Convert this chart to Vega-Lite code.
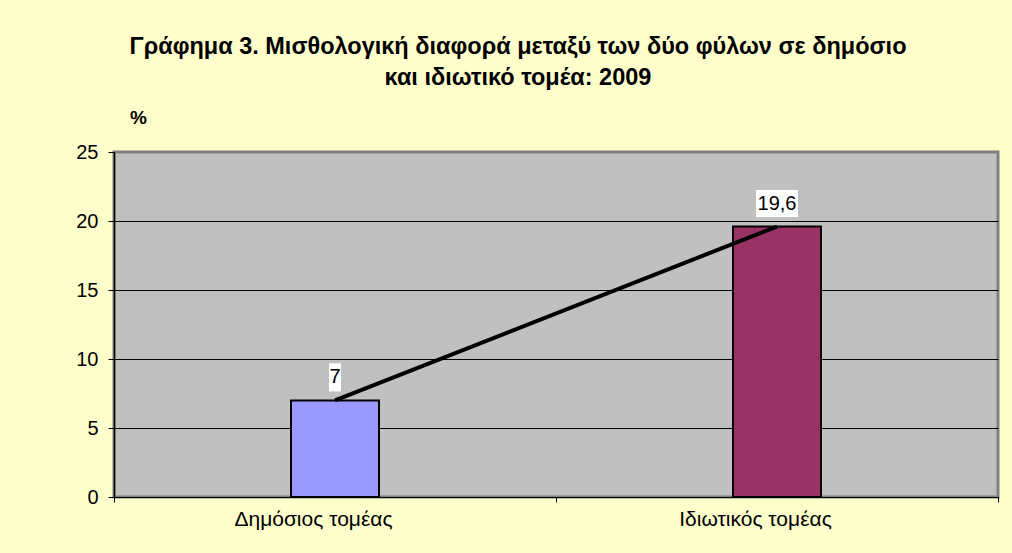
{
  "$schema": "https://vega.github.io/schema/vega-lite/v6.json",
  "autosize": "none",
  "width": 884,
  "height": 345,
  "padding": {"left": 114, "top": 152, "right": 14, "bottom": 56},
  "background": "#FFFFCC",
  "config": {
    "view": {"fill": "#C0C0C0", "stroke": "#808080", "strokeWidth": 3},
    "font": "Liberation Sans"
  },
  "title": {
    "text": ["Γράφημα 3. Μισθολογική διαφορά μεταξύ των δύο φύλων σε δημόσιο", "και ιδιωτικό τομέα: 2009"],
    "font": "Liberation Sans",
    "fontSize": 23.5,
    "fontWeight": "bold",
    "color": "#000000",
    "anchor": "middle",
    "dx": -38,
    "lineHeight": 31,
    "baseline": "bottom",
    "offset": -5
  },
  "data": {
    "values": [
      {"sector": "Δημόσιος τομέας", "value": 7, "label": "7"},
      {"sector": "Ιδιωτικός τομέας", "value": 19.6, "label": "19,6"}
    ]
  },
  "encoding": {
    "x": {
      "field": "sector",
      "type": "nominal",
      "sort": null,
      "scale": {"paddingInner": 0, "paddingOuter": 0},
      "axis": {
        "title": null,
        "labelAngle": 0,
        "labelFont": "Liberation Sans",
        "labelFontSize": 21,
        "labelColor": "#000000",
        "labelOffset": -22,
        "labelPadding": 6,
        "labelBaseline": "top",
        "domainColor": "#000000",
        "domainWidth": 1,
        "tickColor": "#000000",
        "tickSize": 5,
        "tickBand": "extent",
        "grid": false
      }
    },
    "y": {
      "field": "value",
      "type": "quantitative",
      "scale": {"domain": [0, 25], "nice": false},
      "axis": {
        "values": [0, 5, 10, 15, 20, 25],
        "title": "%",
        "titleAngle": 0,
        "titleX": 24,
        "titleY": -35,
        "titleAlign": "center",
        "titleBaseline": "middle",
        "titleFont": "Liberation Sans",
        "titleFontSize": 19,
        "titleFontWeight": "bold",
        "titleColor": "#000000",
        "labelFont": "Liberation Sans",
        "labelFontSize": 20,
        "labelColor": "#000000",
        "labelPadding": 10,
        "domainColor": "#000000",
        "domainWidth": 1.5,
        "tickColor": "#000000",
        "tickSize": 6,
        "grid": true,
        "gridColor": {"condition": {"test": "datum.value == 25", "value": "#808080"}, "value": "#000000"},
        "gridOpacity": 1,
        "gridWidth": 1
      }
    }
  },
  "layer": [
    {
      "mark": {"type": "bar", "size": 88, "stroke": "#000000", "strokeWidth": 2},
      "encoding": {
        "color": {
          "field": "sector",
          "type": "nominal",
          "scale": {"domain": ["Δημόσιος τομέας", "Ιδιωτικός τομέας"], "range": ["#9999FF", "#993366"]},
          "legend": null
        }
      }
    },
    {
      "mark": {"type": "line", "color": "#000000", "strokeWidth": 4},
      "encoding": {}
    },
    {
      "mark": {"type": "point", "filled": true, "color": "#FFFFFF", "opacity": 1, "size": 784, "strokeWidth": 0, "yOffset": -23},
      "encoding": {
        "shape": {
          "field": "label",
          "type": "nominal",
          "scale": {"domain": ["7", "19,6"], "range": ["M-0.43,-1H0.43V1H-0.43Z", "M-1.5,-0.96H1.5V0.96H-1.5Z"]},
          "legend": null
        }
      }
    },
    {
      "mark": {"type": "text", "font": "Liberation Sans", "fontSize": 20, "color": "#000000", "baseline": "middle", "align": "center", "yOffset": -23},
      "encoding": {"text": {"field": "label", "type": "nominal"}}
    }
  ]
}
